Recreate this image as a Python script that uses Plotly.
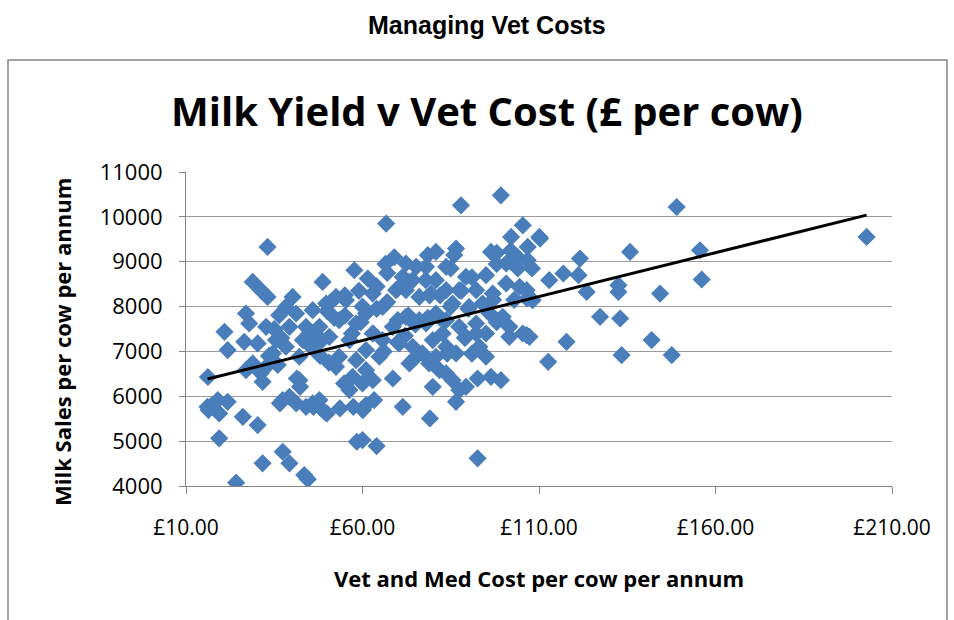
import numpy as np
import plotly.graph_objects as go

# ---- data ----
vet_cost = [
    16.2, 33.1, 28.9, 31.2, 33.1, 20.9, 27.0, 27.9, 32.7, 21.8, 26.5, 30.3, 27.0, 31.7, 31.2, 32.7, 28.9,
    16.1, 19.0, 21.8, 19.4, 26.1, 30.3, 19.4, 31.7, 24.2, 37.4, 39.3, 43.5, 44.5, 16.4, 17.3,
    40.2, 38.3, 36.4, 41.2, 39.3, 35.5, 38.3, 34.6, 42.1, 44.0, 43.1, 42.1, 37.4, 39.3, 41.2, 44.0,
    41.4, 42.3, 36.6, 46.1, 49.9, 53.6, 57.4, 58.4, 64.0, 35.0, 37.0, 33.5, 36.0,
    66.7, 48.7, 57.7, 61.5, 72.3, 75.2, 78.5, 71.4, 74.2, 69.5, 76.1, 52.5, 49.7, 45.9, 55.3, 62.9,
    65.7, 61.0, 58.2, 53.4, 47.8, 44.9, 50.6, 56.3, 62.9, 68.6, 72.3, 76.1, 65.7, 70.4, 74.2, 77.0,
    61.0, 53.4, 58.2, 52.5, 64.8, 57.2, 61.0, 54.8, 60.0, 62.9, 68.6, 73.3, 75.2, 56.3, 45.9, 47.8,
    49.2, 61.0, 63.3, 71.4, 60.0, 79.1, 77.9, 72.3, 60.1,
    51.0, 55.0, 59.0, 64.0, 67.0, 70.0, 73.0, 50.0, 46.0, 48.5, 52.0, 55.0, 59.5, 64.0, 67.0,
    70.0, 73.0, 75.0, 45.5, 48.0, 50.5, 66.0, 70.0, 72.0, 78.5, 79.0, 63.0, 57.0, 60.0, 66.5, 69.0,
    99.2, 87.9, 105.4, 102.1, 110.1, 106.8, 106.8, 86.5, 96.4, 80.8, 100.7, 95.0, 112.9, 116.9,
    121.6, 135.8, 149.0, 155.6, 156.1, 121.2, 123.5, 132.5, 132.5, 144.3, 127.3, 133.0, 106.5,
    106.6, 110.3, 106.5, 112.6, 117.8, 133.4, 141.9, 147.6, 202.8,
    80.8, 83.7, 78.0, 89.3, 83.7, 87.4, 92.2, 96.9, 100.7, 104.5, 108.2, 79.4, 80.8, 85.5, 90.2,
    94.0, 78.0, 83.7, 87.4, 92.2, 95.0, 99.7, 101.6, 105.4, 107.3, 101.6, 79.9, 82.7, 83.7, 86.5,
    80.8, 78.9, 89.3, 92.2, 95.0, 93.1, 81.8, 83.7, 85.5, 87.4, 86.5, 89.3, 79.9, 92.6, 96.4, 99.2,
    92.6, 85.0, 88.0, 91.0, 97.0, 103.0, 98.0, 96.0, 90.0, 85.0, 82.0, 89.0, 91.0, 84.0, 104.0,
    102.0, 98.0, 86.0, 82.0, 102.0, 98.0, 108.0, 104.0,
]
milk_sales = [
    6430, 9330, 8550, 8365, 8215, 7437, 7845, 7623, 7548, 7030, 7214, 7178, 6583, 6323, 6517, 6657, 6732,
    5766, 5915, 5877, 5619, 5543, 5358, 5062, 4505, 4074, 4764, 4505, 4245, 4150, 5693, 5800,
    8215, 7993, 7808, 7845, 7548, 7252, 7104, 6955, 6881, 7548, 7252, 6360, 5915, 5989, 5842, 5766,
    6397, 6212, 5842, 5766, 5619, 5730, 5766, 4987, 4890, 7500, 7300, 6900, 6700,
    9850, 8550, 8810, 8625, 8960, 8885, 9145, 8662, 8588, 8365, 8215, 8215, 8068, 7920, 8142, 8290,
    7993, 7845, 7623, 7697, 7548, 7400, 7326, 7252, 7400, 7548, 7771, 7697, 7252, 7178, 7104, 6955,
    7030, 6881, 6806, 6657, 6881, 6434, 6583, 6287, 6287, 6360, 6397, 6732, 6881, 6138, 5842, 5915,
    5655, 5804, 5915, 5766, 5024, 5507, 8588, 8365, 5693,
    8100, 8250, 8350, 8450, 8750, 8400, 8550, 7900, 7400, 7250, 7750, 7800, 7650, 7950, 8100,
    7700, 7800, 7600, 7100, 6900, 6750, 7000, 7200, 7350, 7750, 8250, 7400, 7400, 8000, 8950, 9100,
    10480, 10258, 9812, 9553, 9553, 9330, 9033, 9293, 9219, 9219, 8960, 8699, 8588, 8737,
    9070, 9219, 10220, 9256, 8603, 8699, 8327, 8476, 8327, 8290, 7771, 7734, 8365,
    8180, 9516, 7363, 6768, 7214, 6918, 7252, 6918, 9553,
    8588, 8885, 8885, 8662, 8365, 8365, 8365, 8290, 8514, 8439, 8142, 8290, 7845, 8068, 7993,
    8068, 7623, 7697, 7550, 7623, 7400, 7771, 7548, 7400, 7326, 7326, 7252, 7400, 7104, 6955,
    6881, 6732, 7326, 7400, 6881, 7104, 6583, 6509, 6360, 6138, 5877, 6212, 6212, 6397, 6434, 6360,
    4617, 8850, 8350, 8650, 8150, 8150, 7650, 7850, 7950, 8000, 8250, 7300, 6950, 6950, 8850,
    9000, 8950, 9150, 7750, 9250, 9200, 8850, 9100,
]
x_ticks = [10, 60, 110, 160, 210]
y_ticks = [4000, 5000, 6000, 7000, 8000, 9000, 10000, 11000]

page_title = "Managing Vet Costs"
chart_title = "Milk Yield v Vet Cost (£ per cow)"
x_title = "Vet and Med Cost per cow per annum"
y_title = "Milk Sales per cow per annum"

# ---- linear trend line (least squares) ----
xa = np.array(vet_cost, dtype=float)
ya = np.array(milk_sales, dtype=float)
slope, intercept = np.polyfit(xa, ya, 1)
tx = [xa.min(), xa.max()]
ty = [slope * v + intercept for v in tx]

W, H = 954, 620
ML, MR, MT, MB = 186, 62, 172, 134
PW, PH = W - ML - MR, H - MT - MB


def px(x):
    return (x - ML) / PW


def py(y):
    return (H - MB - y) / PH


BLUE = "#4a7ebb"
GRID = "#9c9c9c"
AXIS = "#868686"
FONT = "Open Sans"

fig = go.Figure()
fig.add_trace(go.Scatter(
    x=vet_cost, y=milk_sales, mode="markers",
    marker=dict(symbol="diamond", size=14, color=BLUE, line=dict(width=0)),
    showlegend=False, hoverinfo="x+y",
))
fig.add_trace(go.Scatter(
    x=tx, y=ty, mode="lines", line=dict(color="black", width=3),
    showlegend=False, hoverinfo="skip",
))

fig.update_layout(
    width=W, height=H,
    margin=dict(l=ML, r=MR, t=MT, b=MB, pad=0),
    paper_bgcolor="white", plot_bgcolor="white",
    font=dict(family=FONT, color="black"),
    xaxis=dict(
        range=[10, 210], tickvals=x_ticks, ticktext=[f"£{v:.2f}" for v in x_ticks],
        showgrid=False, zeroline=False, showline=True, linecolor=AXIS, linewidth=1,
        ticks="outside", ticklen=7, tickcolor=AXIS, tickfont=dict(size=21, family=FONT),
        ticklabelstandoff=16,
    ),
    yaxis=dict(
        range=[4000, 11000], tickvals=y_ticks, ticktext=[str(v) for v in y_ticks],
        showgrid=True, gridcolor=GRID, gridwidth=1, zeroline=False,
        showline=True, linecolor=AXIS, linewidth=1,
        ticks="outside", ticklen=6, tickcolor=AXIS, tickfont=dict(size=22, family=FONT),
        ticklabelstandoff=12,
    ),
    shapes=[dict(
        type="rect", xref="paper", yref="paper",
        x0=px(8), x1=px(947), y0=py(626), y1=py(60),
        line=dict(color=AXIS, width=1.5), fillcolor="rgba(0,0,0,0)", layer="below",
    )],
    annotations=[
        dict(text=page_title, xref="paper", yref="paper", x=px(487), y=py(25),
             showarrow=False, xanchor="center", yanchor="middle",
             font=dict(family="Liberation Sans", size=25, color="black", weight="bold")),
        dict(text=chart_title, xref="paper", yref="paper", x=px(487), y=py(111),
             showarrow=False, xanchor="center", yanchor="middle",
             font=dict(family=FONT, size=40, color="black", weight="bold")),
        dict(text=x_title, xref="paper", yref="paper", x=px(539), y=py(578),
             showarrow=False, xanchor="center", yanchor="middle",
             font=dict(family=FONT, size=22, color="black", weight="bold")),
        dict(text=y_title, xref="paper", yref="paper", x=px(62), y=py(342),
             showarrow=False, xanchor="center", yanchor="middle", textangle=-90,
             font=dict(family=FONT, size=22, color="black", weight="bold")),
    ],
)

fig.write_html("out.html")
